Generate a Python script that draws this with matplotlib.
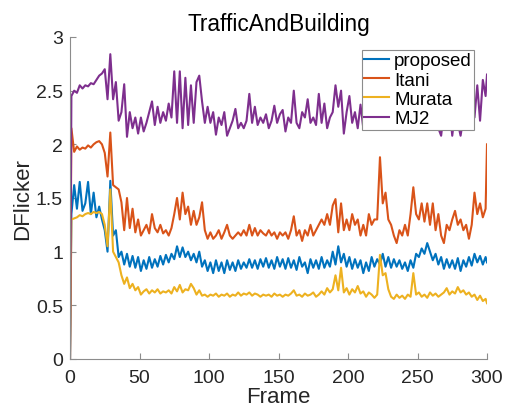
import matplotlib
matplotlib.use("Agg")
import matplotlib.pyplot as plt
import numpy as np

# frames: 0, odd frames 1..299, then 300
frames = [0] + list(range(1, 300, 2)) + [300]

proposed = [0,
    1.35, 1.62, 1.40, 1.65, 1.38,
    1.45, 1.65, 1.35, 1.55, 1.32,
    1.42, 1.30, 1.20, 1.00, 1.66,
    1.15, 1.20, 0.95, 1.00, 0.88,
    0.98, 0.86, 0.96, 0.85, 0.95,
    0.82, 0.92, 0.84, 0.95, 0.85,
    0.93, 0.86, 0.96, 0.88, 0.97,
    0.90, 0.98, 0.93, 1.05, 0.95,
    1.04, 0.95, 1.00, 0.92, 0.98,
    0.90, 1.00, 0.86, 0.92, 0.82,
    0.90, 0.80, 0.92, 0.82, 0.90,
    0.80, 0.92, 0.83, 0.90, 0.82,
    0.92, 0.84, 0.90, 0.85, 0.93,
    0.85, 0.92, 0.84, 0.93, 0.86,
    0.94, 0.85, 0.92, 0.84, 0.95,
    0.86, 0.93, 0.84, 0.94, 0.85,
    0.92, 0.83, 0.95, 0.86, 0.90,
    0.80, 0.93, 0.85, 0.92, 0.84,
    0.95, 0.85, 0.92, 0.86, 1.00,
    0.88, 1.05, 0.90, 0.98, 0.86,
    0.95, 0.84, 0.93, 0.85, 0.92,
    0.80, 0.90, 0.82, 0.95, 0.86,
    0.93, 0.88, 0.98, 0.86, 0.95,
    0.85, 0.93, 0.86, 0.92, 0.84,
    0.90, 0.82, 0.92, 0.85, 0.98,
    0.95, 1.03, 0.98, 1.08, 1.00,
    0.92, 0.98, 0.88, 0.95, 0.84,
    0.93, 0.85, 0.92, 0.84, 0.94,
    0.82, 0.92, 0.86, 0.95, 0.87,
    0.98, 0.90, 0.96, 0.88, 0.95,
    0.90]

itani = [0,
    2.15, 1.93, 1.98, 1.95, 1.97,
    1.96, 1.99, 1.97, 2.00, 2.02,
    2.03, 2.00, 1.92, 1.70, 2.11,
    1.62, 1.60, 1.58, 1.46, 1.20,
    1.50, 1.22, 1.40, 1.18, 1.30,
    1.15, 1.20, 1.25, 1.17, 1.35,
    1.22, 1.18, 1.25, 1.17, 1.20,
    1.15, 1.22, 1.35, 1.50, 1.30,
    1.55, 1.35, 1.42, 1.25, 1.38,
    1.25, 1.32, 1.46, 1.20, 1.12,
    1.18, 1.12, 1.15, 1.20, 1.12,
    1.18, 1.25, 1.15, 1.12, 1.15,
    1.18, 1.15, 1.20, 1.15, 1.25,
    1.15, 1.22, 1.15, 1.20, 1.17,
    1.15, 1.20, 1.15, 1.18, 1.12,
    1.18, 1.15, 1.18, 1.12, 1.20,
    1.33, 1.15, 1.20, 1.10, 1.20,
    1.15, 1.25, 1.15, 1.20, 1.25,
    1.30, 1.25, 1.35, 1.25, 1.43,
    1.49, 1.18, 1.45, 1.20, 1.30,
    1.20, 1.35, 1.25, 1.30, 1.15,
    1.25, 1.15, 1.35, 1.25, 1.30,
    1.30, 1.88, 1.45, 1.55, 1.30,
    1.25, 1.15, 1.08, 1.20, 1.15,
    1.25, 1.15, 1.35, 1.60, 1.35,
    1.30, 1.45, 1.28, 1.45, 1.25,
    1.45, 1.20, 1.35, 1.15, 1.08,
    1.25, 1.20, 1.30, 1.38, 1.25,
    1.30, 1.20, 1.25, 1.12, 1.25,
    1.55, 1.35, 1.45, 1.32, 1.40,
    2.00]

murata = [0,
    1.30, 1.31, 1.32, 1.34, 1.33,
    1.35, 1.36, 1.35, 1.37, 1.36,
    1.37, 1.35, 1.25, 1.05, 1.58,
    1.00, 0.95, 0.90, 0.78, 0.70,
    0.76, 0.66, 0.70, 0.64, 0.67,
    0.60, 0.63, 0.65, 0.61, 0.64,
    0.62, 0.65, 0.61, 0.63, 0.62,
    0.64, 0.61, 0.67, 0.63, 0.69,
    0.62, 0.65, 0.64, 0.70, 0.66,
    0.60, 0.64, 0.59, 0.60, 0.58,
    0.60, 0.59, 0.61, 0.58, 0.60,
    0.59, 0.61, 0.58, 0.60, 0.59,
    0.62, 0.59, 0.61, 0.60, 0.62,
    0.59, 0.61, 0.60, 0.58, 0.60,
    0.59, 0.60, 0.58, 0.61, 0.59,
    0.60, 0.58, 0.60, 0.59, 0.61,
    0.64, 0.59, 0.60, 0.58, 0.61,
    0.59, 0.60, 0.62, 0.58, 0.60,
    0.63, 0.60, 0.66, 0.62, 0.65,
    0.78, 0.64, 0.85, 0.62, 0.66,
    0.60, 0.65, 0.62, 0.68, 0.61,
    0.63, 0.58, 0.62, 0.60, 0.57,
    0.60, 0.97, 0.78, 0.80, 0.65,
    0.58, 0.56, 0.60, 0.57, 0.59,
    0.56, 0.60, 0.58, 0.80, 0.60,
    0.62, 0.58, 0.60, 0.57, 0.62,
    0.59, 0.61, 0.58, 0.60, 0.62,
    0.66, 0.60, 0.63, 0.61, 0.67,
    0.62, 0.64, 0.60, 0.62, 0.58,
    0.60, 0.55, 0.59, 0.54, 0.56,
    0.52]

mj2 = [0,
    2.45, 2.50, 2.48, 2.55, 2.52,
    2.55, 2.54, 2.57, 2.56, 2.60,
    2.64, 2.66, 2.70, 2.42, 2.84,
    2.42, 2.58, 2.22, 2.30, 2.56,
    2.07, 2.30, 2.15, 2.25, 2.10,
    2.25, 2.12, 2.20, 2.30, 2.40,
    2.18, 2.35, 2.20, 2.30, 2.22,
    2.38, 2.25, 2.68, 2.20, 2.68,
    2.15, 2.62, 2.18, 2.55, 2.20,
    2.58, 2.64, 2.40, 2.20, 2.35,
    2.20, 2.30, 2.09, 2.25, 2.18,
    2.30, 2.08, 2.15, 2.22, 2.33,
    2.15, 2.20, 2.15, 2.22, 2.47,
    2.20, 2.35, 2.18, 2.25, 2.20,
    2.28, 2.15, 2.22, 2.36, 2.20,
    2.28, 2.32, 2.12, 2.25, 2.20,
    2.50, 2.20, 2.15, 2.30, 2.25,
    2.42, 2.20, 2.25, 2.18, 2.47,
    2.20, 2.38, 2.15, 2.25, 2.30,
    2.55, 2.35, 2.50, 2.10, 2.30,
    2.45, 2.20, 2.30, 2.15, 2.37,
    2.15, 2.40, 2.20, 2.30, 2.18,
    2.20, 2.40, 2.25, 2.30, 2.20,
    2.35, 2.25, 2.30, 2.20, 2.35,
    2.25, 2.30, 2.20, 2.40, 2.25,
    2.30, 2.20, 2.35, 2.25, 2.30,
    2.20, 2.30, 2.15, 2.08, 2.30,
    2.20, 2.35, 2.08, 2.30, 2.20,
    2.08, 2.25, 2.30, 2.20, 2.40,
    2.25, 2.55, 2.22, 2.60, 2.45,
    2.65]

series_names = ["proposed", "Itani", "Murata", "MJ2"]
series_colors = ["#0072BD", "#D95319", "#EDB120", "#7E2F8E"]
xticks = [0, 50, 100, 150, 200, 250, 300]
yticks = [0, 0.5, 1, 1.5, 2, 2.5, 3]
ytick_labels = ["0", "0.5", "1", "1.5", "2", "2.5", "3"]

plt.rcParams['font.family'] = ['Liberation Sans', 'DejaVu Sans']

fig = plt.figure(figsize=(5.09, 4.10), dpi=100)
ax = fig.add_axes([70/509, 1 - 360/410, 417/509, 322/410])

for name, vals, col in zip(series_names, [proposed, itani, murata, mj2], series_colors):
    ax.plot(frames, vals, color=col, lw=1.5, label=name)

ax.set_xlim(0, 300)
ax.set_ylim(0, 3)
ax.set_xticks(xticks)
ax.set_yticks(yticks)
ax.set_yticklabels(ytick_labels)
axis_col = "#262626"
for s in ["top", "right"]:
    ax.spines[s].set_visible(False)
for s in ["left", "bottom"]:
    ax.spines[s].set_color("#8c8c8c")
    ax.spines[s].set_linewidth(0.8)
ax.tick_params(direction="in", length=4, width=0.8, color="#8c8c8c",
               labelsize=14, labelcolor=axis_col)
ax.tick_params(axis="x", pad=7)
ax.tick_params(axis="y", pad=5)
ax.set_xlabel("Frame", fontsize=16, color=axis_col, labelpad=0)
ax.set_ylabel("DFlicker", fontsize=16, color=axis_col, labelpad=2)
ax.set_title("TrafficAndBuilding", fontsize=16.3, color="black", pad=5)

leg = ax.legend(loc="upper right", bbox_to_anchor=(0.969, 0.96), fontsize=13.5,
                frameon=True, fancybox=False, edgecolor="#8c8c8c",
                handlelength=1.35, handletextpad=0.25, borderpad=0.12,
                borderaxespad=0, labelspacing=0.12)
leg.get_frame().set_linewidth(0.8)
leg.get_frame().set_alpha(1)

fig.savefig("out.png", dpi=100)
